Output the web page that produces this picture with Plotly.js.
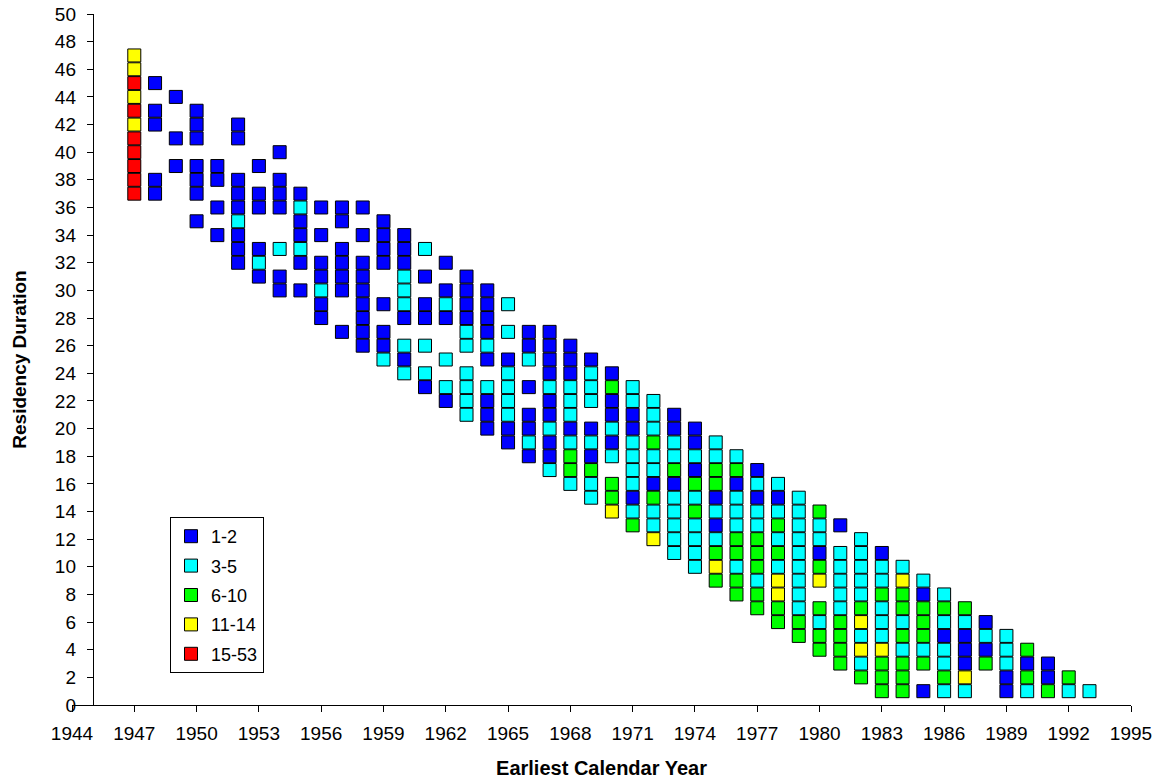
<!DOCTYPE html>
<html>
<head>
<meta charset="utf-8">
<script src="https://cdn.plot.ly/plotly-3.0.1.min.js"></script>
<style>
  html, body { margin: 0; padding: 0; background: #ffffff; }
  #chart { width: 1154px; height: 784px; }
</style>
</head>
<body>
<div id="chart"></div>
<script>
// Legend categories (number of ... per cell)
const categories = ["1-2", "3-5", "6-10", "11-14", "15-53"];

// Earliest calendar year of each column
const years = [1947, 1948, 1949, 1950, 1951, 1952, 1953, 1954, 1955, 1956,
               1957, 1958, 1959, 1960, 1961, 1962, 1963, 1964, 1965, 1966,
               1967, 1968, 1969, 1970, 1971, 1972, 1973, 1974, 1975, 1976,
               1977, 1978, 1979, 1980, 1981, 1982, 1983, 1984, 1985, 1986,
               1987, 1988, 1989, 1990, 1991, 1992, 1993];

// Residency durations present in each year column
const durations = [
  [47,46,45,44,43,42,41,40,39,38,37],
  [45,43,42,38,37],
  [44,41,39],
  [43,42,41,39,38,37,35],
  [39,38,36,34],
  [42,41,38,37,36,35,34,33,32],
  [39,37,36,33,32,31],
  [40,38,37,36,33,31,30],
  [37,36,35,34,33,32,30],
  [36,34,32,31,30,29,28],
  [36,35,33,32,31,30,27],
  [36,34,32,31,30,29,28,27,26],
  [35,34,33,32,29,27,26,25],
  [34,33,32,31,30,29,28,26,25,24],
  [33,31,29,28,26,24,23],
  [32,30,29,28,25,23,22],
  [31,30,29,28,27,26,24,23,22,21],
  [30,29,28,27,26,25,23,22,21,20],
  [29,27,25,24,23,22,21,20,19],
  [27,26,25,23,21,20,19,18],
  [27,26,25,24,23,22,21,20,19,18,17],
  [26,25,24,23,22,21,20,19,18,17,16],
  [25,24,23,22,20,19,18,17,16,15],
  [24,23,22,21,20,19,18,16,15,14],
  [23,22,21,20,19,18,17,16,15,14,13],
  [22,21,20,19,18,17,16,15,14,13,12],
  [21,20,19,18,17,16,15,14,13,12,11],
  [20,19,18,17,16,15,14,13,12,11,10],
  [19,18,17,16,15,14,13,12,11,10,9],
  [18,17,16,15,14,13,12,11,10,9,8],
  [17,16,15,14,13,12,11,10,9,8,7],
  [16,15,14,13,12,11,10,9,8,7,6],
  [15,14,13,12,11,10,9,8,7,6,5],
  [14,13,12,11,10,9,7,6,5,4],
  [13,11,10,9,8,7,6,5,4,3],
  [12,11,10,9,8,7,6,5,4,3,2],
  [11,10,9,8,7,6,5,4,3,2,1],
  [10,9,8,7,6,5,4,3,2,1],
  [9,8,7,6,5,4,3,1],
  [8,7,6,5,4,3,2,1],
  [7,6,5,4,3,2,1],
  [6,5,4,3],
  [5,4,3,2,1],
  [4,3,2,1],
  [3,2,1],
  [2,1],
  [1]
];

// Category (index into categories) of each cell, same shape as durations
const cellCategory = [
  [3,3,4,3,4,3,4,4,4,4,4],
  [0,0,0,0,0],
  [0,0,0],
  [0,0,0,0,0,0,0],
  [0,0,0,0],
  [0,0,0,0,0,1,0,0,0],
  [0,0,0,0,1,0],
  [0,0,0,0,1,0,0],
  [0,1,0,0,1,0,0],
  [0,0,0,0,1,0,0],
  [0,0,0,0,0,0,0],
  [0,0,0,0,0,0,0,0,0],
  [0,0,0,0,0,0,0,1],
  [0,0,0,1,1,1,0,1,0,1],
  [1,0,0,0,1,1,0],
  [0,0,1,0,1,1,0],
  [0,0,0,0,1,1,1,1,1,1],
  [0,0,0,0,1,0,1,0,0,0],
  [1,1,0,1,1,1,1,0,0],
  [0,0,1,0,0,0,1,0],
  [0,0,0,0,1,0,0,1,0,0,1],
  [0,0,0,1,1,1,0,1,2,2,1],
  [0,1,1,1,0,1,0,2,1,1],
  [0,2,0,0,1,0,1,2,2,3],
  [1,1,0,0,1,1,1,1,0,1,2],
  [1,1,1,2,1,1,0,2,1,1,3],
  [0,0,1,1,2,0,1,1,1,1,1],
  [0,0,1,0,2,1,2,1,1,1,1],
  [1,1,2,2,0,1,0,1,2,3,2],
  [1,2,0,1,1,1,2,2,1,2,2],
  [0,1,0,1,1,2,2,2,1,2,2],
  [1,0,1,2,1,2,1,3,3,2,2],
  [1,1,1,1,1,1,1,1,1,2,2],
  [2,1,1,0,2,3,2,1,2,2],
  [0,1,1,1,1,1,2,2,2,2],
  [1,1,1,1,1,2,3,1,3,1,2],
  [0,1,1,2,1,1,1,3,2,2,2],
  [1,3,2,2,1,2,1,2,2,2],
  [1,0,2,2,2,1,2,0],
  [1,2,1,0,1,1,2,1],
  [2,1,0,0,0,3,1],
  [0,1,0,2],
  [1,1,1,0,0],
  [2,0,2,1],
  [0,0,2],
  [2,1],
  [1]
];

const xTickValues = [1944,1947,1950,1953,1956,1959,1962,1965,1968,1971,1974,1977,1980,1983,1986,1989,1992,1995];
const yTickValues = [0,2,4,6,8,10,12,14,16,18,20,22,24,26,28,30,32,34,36,38,40,42,44,46,48,50];

const categoryColors = ["#0000FF", "#00FFFF", "#00FF00", "#FFFF00", "#FF0000"];

const traces = categories.map((name, ci) => {
  const xs = [], ys = [];
  years.forEach((yr, i) => {
    durations[i].forEach((d, j) => {
      if (cellCategory[i][j] === ci) { xs.push(yr); ys.push(d); }
    });
  });
  return {
    type: "scatter",
    mode: "markers",
    name: name,
    legendgroup: name,
    x: xs,
    y: ys,
    marker: {
      symbol: "square",
      size: 13,
      color: categoryColors[ci],
      line: { color: "#000000", width: 1 }
    },
    hoverinfo: "x+y+name"
  };
});

const FONT = "'Liberation Sans', Arial, sans-serif";

const layout = {
  width: 1154,
  height: 784,
  paper_bgcolor: "#ffffff",
  plot_bgcolor: "#ffffff",
  font: { family: FONT, color: "#000000", size: 19 },
  margin: { l: 72, r: 23, t: 14, b: 79, pad: 0 },
  showlegend: true,
  legend: {
    x: (170 - 72) / 1059,
    y: (705 - 517) / 691,
    xanchor: "left",
    yanchor: "top",
    bordercolor: "#000000",
    borderwidth: 1,
    bgcolor: "#ffffff",
    font: { family: FONT, size: 18, color: "#000000" },
    traceorder: "grouped",
    tracegroupgap: 3
  },
  xaxis: {
    range: [1944, 1995],
    tickmode: "array",
    tickvals: xTickValues,
    ticktext: xTickValues.map(String),
    ticks: "outside",
    ticklen: 6,
    tickwidth: 1,
    tickcolor: "#000000",
    ticklabelstandoff: 5,
    showline: true,
    linecolor: "#000000",
    linewidth: 1,
    showgrid: false,
    zeroline: false,
    tickfont: { family: FONT, size: 19 },
    title: { text: "<b>Earliest Calendar Year</b>", font: { family: FONT, size: 20 }, standoff: 18 }
  },
  yaxis: {
    range: [0, 50],
    anchor: "free",
    position: 1 / 51,
    tickmode: "array",
    tickvals: yTickValues,
    ticktext: yTickValues.map(String),
    ticks: "outside",
    ticklen: 6,
    tickwidth: 1,
    tickcolor: "#000000",
    ticklabelstandoff: 7,
    showline: true,
    linecolor: "#000000",
    linewidth: 1,
    showgrid: false,
    zeroline: false,
    tickfont: { family: FONT, size: 19 },
    title: { text: "<b>Residency Duration</b>", font: { family: FONT, size: 19 }, standoff: 22 }
  }
};

Plotly.newPlot("chart", traces, layout, { displayModeBar: false, responsive: false });
</script>
</body>
</html>
